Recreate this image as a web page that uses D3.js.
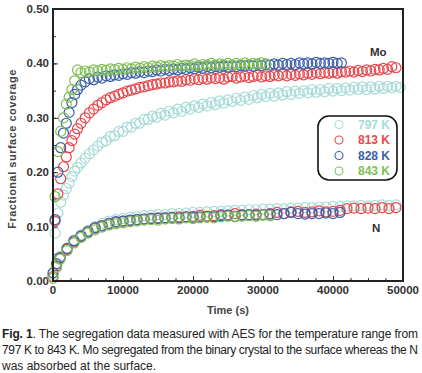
<!DOCTYPE html>
<html>
<head>
<meta charset="utf-8">
<script src="https://cdn.jsdelivr.net/npm/d3@7"></script>
<style>
  body { margin: 0; background: #fff; }
  svg text { font-family: "Liberation Sans", Arial, sans-serif; }
</style>
</head>
<body>
<div id="chart"></div>
<script>
// sampling times (s) of the AES scans
var moTime = [300, 700, 1100, 1500, 1900, 2300, 2700, 3100, 3500,
  4000, 4600, 5200, 5800, 6400, 7000, 7600, 8200, 8800, 9400, 10000, 10600, 11200, 11800,
  12400, 13000, 13600, 14200, 14800, 15400, 16000, 16600, 17200, 17800, 18400, 19000, 19600,
  20200, 20800, 21400, 22000, 22600, 23200, 23800, 24400, 25000, 25600, 26200, 26800, 27400,
  28000, 28600, 29200, 29800, 30400, 31000, 31600, 32200, 32800, 33400, 34000, 34600, 35200,
  35800, 36400, 37000, 37600, 38200, 38800, 39400, 40000, 40600, 41200, 41800, 42400, 43000,
  43600, 44200, 44800, 45400, 46000, 46600, 47200, 47800, 48400, 49000, 49600]

var nTime = [0, 500, 1000, 2000, 3000, 4000, 5000, 6000, 7000, 8000, 9000, 10000, 11000,
  12000, 13000, 14000, 15000, 16000, 17000, 18000, 19000, 20000, 21000, 22000, 23000, 24000,
  25000, 26000, 27000, 28000, 29000, 30000, 31000, 32000, 33000, 34000, 35000, 36000, 37000,
  38000, 39000, 40000, 41000, 42000, 43000, 44000, 45000, 46000, 47000, 48000, 49000]

var temps = ["797 K", "813 K", "828 K", "843 K"]
var colors = ["#a6dbd6", "#e8474b", "#3c5fab", "#80c054"]

// Mo coverage, one array per temperature
var mo797 = [0.088, 0.125, 0.145, 0.158, 0.170, 0.180, 0.192, 0.202, 0.209,
  0.217, 0.226, 0.234, 0.241, 0.248, 0.255, 0.258, 0.266, 0.267, 0.275, 0.275, 0.283, 0.283,
  0.290, 0.290, 0.297, 0.297, 0.303, 0.301, 0.308, 0.305, 0.312, 0.309, 0.316, 0.312, 0.319,
  0.316, 0.322, 0.319, 0.325, 0.322, 0.328, 0.324, 0.331, 0.327, 0.333, 0.330, 0.336, 0.332,
  0.338, 0.334, 0.341, 0.337, 0.343, 0.339, 0.345, 0.340, 0.346, 0.342, 0.348, 0.343, 0.349,
  0.345, 0.350, 0.346, 0.352, 0.347, 0.352, 0.348, 0.354, 0.349, 0.354, 0.350, 0.355, 0.351,
  0.356, 0.352, 0.357, 0.352, 0.357, 0.353, 0.358, 0.354, 0.358, 0.355, 0.358, 0.356]
var mo813 = [0.110, 0.160, 0.188, 0.210, 0.228, 0.245, 0.258, 0.270, 0.280,
  0.290, 0.300, 0.309, 0.316, 0.323, 0.328, 0.333, 0.337, 0.340, 0.343, 0.346, 0.349, 0.351,
  0.353, 0.356, 0.357, 0.359, 0.361, 0.362, 0.364, 0.364, 0.366, 0.366, 0.368, 0.367, 0.370,
  0.369, 0.372, 0.370, 0.373, 0.371, 0.374, 0.372, 0.374, 0.371, 0.375, 0.376, 0.373, 0.375,
  0.377, 0.374, 0.376, 0.378, 0.375, 0.377, 0.376, 0.379, 0.377, 0.380, 0.377, 0.380, 0.378,
  0.381, 0.379, 0.382, 0.380, 0.383, 0.381, 0.383, 0.382, 0.384, 0.382, 0.385, 0.384, 0.386,
  0.384, 0.387, 0.385, 0.388, 0.386, 0.389, 0.388, 0.391, 0.389, 0.394, 0.392]
var mo828 = [0.113, 0.200, 0.245, 0.272, 0.290, 0.310, 0.328, 0.343, 0.352,
  0.360, 0.366, 0.372, 0.370, 0.375, 0.373, 0.377, 0.376, 0.379, 0.378, 0.381, 0.380, 0.383,
  0.382, 0.385, 0.383, 0.386, 0.385, 0.388, 0.386, 0.389, 0.387, 0.390, 0.388, 0.391, 0.389,
  0.392, 0.390, 0.393, 0.391, 0.394, 0.392, 0.394, 0.393, 0.395, 0.393, 0.396, 0.394, 0.396,
  0.395, 0.397, 0.395, 0.398, 0.396, 0.398, 0.397, 0.399, 0.397, 0.400, 0.398, 0.400, 0.398,
  0.401, 0.399, 0.401, 0.399, 0.402, 0.400, 0.401, 0.400, 0.402, 0.400, 0.401]
var mo843 = [0.155, 0.238, 0.275, 0.300, 0.325, 0.338, 0.352, 0.368, 0.388,
  0.383, 0.386, 0.384, 0.388, 0.386, 0.389, 0.387, 0.390, 0.388, 0.391, 0.389, 0.392, 0.390,
  0.393, 0.391, 0.394, 0.392, 0.395, 0.393, 0.396, 0.394, 0.396, 0.395, 0.398, 0.395, 0.397,
  0.396, 0.399, 0.396, 0.398, 0.397, 0.400, 0.397, 0.399, 0.398, 0.400, 0.397, 0.400, 0.398,
  0.401, 0.398, 0.400, 0.399, 0.401, 0.399]

// N coverage
var n797 = [0.012, 0.030, 0.045, 0.060, 0.075, 0.085, 0.093, 0.100, 0.106, 0.110, 0.113,
  0.115, 0.117, 0.118, 0.120, 0.121, 0.122, 0.122, 0.124, 0.124, 0.125, 0.126, 0.126, 0.127,
  0.128, 0.128, 0.129, 0.130, 0.130, 0.131, 0.131, 0.132, 0.132, 0.133, 0.133, 0.134, 0.134,
  0.135, 0.135, 0.136, 0.136, 0.137, 0.137, 0.138, 0.138, 0.139, 0.138, 0.139, 0.140, 0.139, 0.140]
var n813 = [0.008, 0.028, 0.042, 0.058, 0.072, 0.082, 0.090, 0.097, 0.101, 0.105, 0.108,
  0.110, 0.111, 0.113, 0.114, 0.115, 0.116, 0.116, 0.117, 0.118, 0.118, 0.119, 0.121, 0.119,
  0.120, 0.122, 0.121, 0.124, 0.122, 0.121, 0.123, 0.122, 0.124, 0.126, 0.124, 0.127, 0.128,
  0.126, 0.127, 0.129, 0.127, 0.128, 0.130, 0.133, 0.134, 0.133, 0.134, 0.133, 0.135, 0.133, 0.135]
var n828 = [0.015, 0.032, 0.043, 0.060, 0.074, 0.083, 0.091, 0.098, 0.102, 0.106, 0.109,
  0.110, 0.112, 0.113, 0.114, 0.115, 0.115, 0.116, 0.117, 0.116, 0.118, 0.117, 0.118, 0.119,
  0.118, 0.120, 0.121, 0.119, 0.121, 0.122, 0.121, 0.122, 0.123, 0.122, 0.124, 0.126, 0.124,
  0.123, 0.124, 0.124, 0.125, 0.124, 0.126]
var n843 = [0.005, 0.025, 0.040, 0.056, 0.070, 0.080, 0.088, 0.094, 0.099, 0.103, 0.105,
  0.107, 0.109, 0.110, 0.112, 0.113, 0.112, 0.114, 0.115, 0.114, 0.116, 0.115, 0.116, 0.117,
  0.116, 0.118, 0.119, 0.118, 0.119, 0.120, 0.119, 0.121, 0.120]

var moSeries = [mo797, mo813, mo828, mo843]
var nSeries = [n797, n813, n828, n843]

var xTicks = [0, 10000, 20000, 30000, 40000, 50000]
var yTicks = [0, 0.1, 0.2, 0.3, 0.4, 0.5]

var captionLines = [
  ["Fig. 1", ". The segregation data measured with AES for the temperature range from"],
  ["", "797 K to 843 K. Mo segregated from the binary crystal to the surface whereas the N"],
  ["", "was absorbed at the surface."]
]

var W = 422, H = 373
var margin = {top: 9, right: 19, bottom: 92, left: 53}

var svg = d3.select("#chart").append("svg")
    .attr("width", W)
    .attr("height", H)

var x = d3.scaleLinear().domain([0, 50000]).range([margin.left, W - margin.right])
var y = d3.scaleLinear().domain([0, 0.5]).range([H - margin.bottom, margin.top])

// minor + major ticks, pointing inward
var plot = svg.append("g")
plot.append("g")
    .attr("transform", "translate(0," + y(0) + ")")
    .call(d3.axisTop(x).tickValues(d3.range(0, 50001, 2500)).tickSize(3).tickFormat(""))
plot.append("g")
    .attr("transform", "translate(" + x(0) + ",0)")
    .call(d3.axisRight(y).tickValues(d3.range(0, 0.501, 0.05)).tickSize(3).tickFormat(""))
plot.append("g")
    .attr("transform", "translate(0," + y(0) + ")")
    .call(d3.axisTop(x).tickValues(xTicks).tickSize(5).tickFormat(""))
plot.append("g")
    .attr("transform", "translate(" + x(0) + ",0)")
    .call(d3.axisRight(y).tickValues(yTicks).tickSize(5).tickFormat(""))
plot.selectAll(".domain").remove()
plot.selectAll(".tick line").attr("stroke", "#333").attr("stroke-width", 1)

// tick labels
svg.selectAll(".xlab").data(xTicks).enter().append("text")
    .attr("x", function(d){ return x(d) })
    .attr("y", y(0) + 13)
    .attr("text-anchor", "middle")
    .attr("font-size", 11.5).attr("font-weight", "bold").attr("fill", "#333")
    .text(function(d){ return d })
svg.selectAll(".ylab").data(yTicks).enter().append("text")
    .attr("x", x(0) - 4)
    .attr("y", function(d){ return y(d) + 4 })
    .attr("text-anchor", "end")
    .attr("font-size", 11.5).attr("font-weight", "bold").attr("fill", "#333")
    .text(function(d){ return d.toFixed(2) })

// data circles
temps.forEach(function(t, k) {
  svg.append("g").selectAll("circle")
    .data(moSeries[k]).enter().append("circle")
      .attr("cx", function(d, i){ return x(moTime[i]) })
      .attr("cy", function(d){ return y(d) })
      .attr("r", 5)
      .attr("fill", "none")
      .attr("stroke", colors[k])
      .attr("stroke-width", 1.2)
  svg.append("g").selectAll("circle")
    .data(nSeries[k]).enter().append("circle")
      .attr("cx", function(d, i){ return x(nTime[i]) })
      .attr("cy", function(d){ return y(d) })
      .attr("r", 5)
      .attr("fill", "none")
      .attr("stroke", colors[k])
      .attr("stroke-width", 1.2)
})

// frame
svg.append("rect")
    .attr("x", x(0)).attr("y", y(0.5))
    .attr("width", x(50000) - x(0)).attr("height", y(0) - y(0.5))
    .attr("fill", "none").attr("stroke", "#222").attr("stroke-width", 2)

svg.append("text").attr("x", 370).attr("y", 56)
    .attr("font-size", 11.5).attr("font-weight", "bold").attr("fill", "#333").text("Mo")
svg.append("text").attr("x", 372).attr("y", 232)
    .attr("font-size", 11.5).attr("font-weight", "bold").attr("fill", "#333").text("N")

// legend
var legend = svg.append("g")
legend.append("rect")
    .attr("x", 318).attr("y", 116).attr("width", 79).attr("height", 64).attr("rx", 11)
    .attr("fill", "#fff").attr("stroke", "#111").attr("stroke-width", 1.6)
temps.forEach(function(t, k) {
  legend.append("circle")
      .attr("cx", 339).attr("cy", 124.5 + k * 15.5).attr("r", 4)
      .attr("fill", "none").attr("stroke", colors[k]).attr("stroke-width", 1.1)
  legend.append("text")
      .attr("x", 358).attr("y", 128.5 + k * 15.5)
      .attr("font-size", 12).attr("font-weight", "bold").attr("fill", colors[k])
      .text(t)
})

// axis titles
svg.append("text")
    .attr("x", (x(0) + x(50000)) / 2).attr("y", 314)
    .attr("text-anchor", "middle")
    .attr("font-size", 11).attr("font-weight", "bold").attr("fill", "#444")
    .text("Time (s)")
svg.append("text")
    .attr("transform", "translate(16," + ((y(0) + y(0.5)) / 2 + 4) + ") rotate(-90)")
    .attr("text-anchor", "middle")
    .attr("font-size", 11).attr("font-weight", "bold").attr("fill", "#444")
    .attr("letter-spacing", 0.5)
    .text("Fractional surface coverage")

// caption
captionLines.forEach(function(line, i) {
  var t = svg.append("text")
      .attr("x", 2).attr("y", 338 + i * 16)
      .attr("font-size", 12).attr("fill", "#222")
  if (i < 2) t.attr("textLength", 416).attr("lengthAdjust", "spacing")
  if (line[0]) t.append("tspan").attr("font-weight", "bold").text(line[0])
  t.append("tspan").text(line[1])
})
</script>
</body>
</html>
